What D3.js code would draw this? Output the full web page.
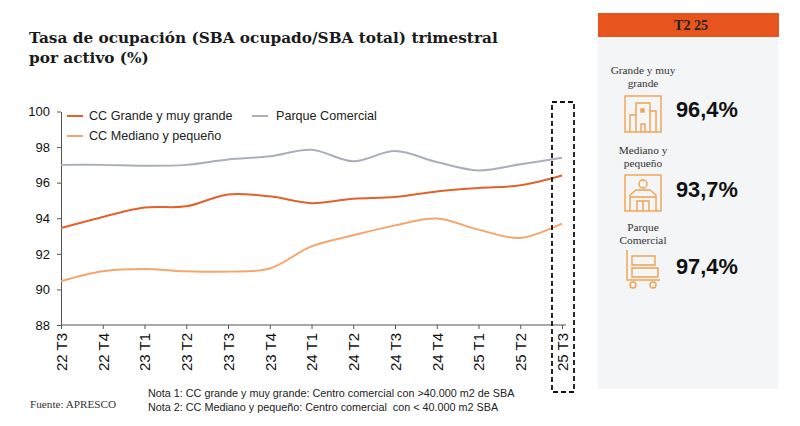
<!DOCTYPE html>
<html lang='es'>
<head>
  <meta charset='utf-8'>
  <title>Tasa de ocupación</title>
  <script src='https://d3js.org/d3.v7.min.js' charset='utf-8'></script>
  <style>
  body { margin: 0; background: #fff; }
  .axis text { font-family: 'Liberation Sans', Arial, sans-serif; fill: #111; }
  .axis path, .axis line { stroke: #555; }
  </style>
</head>
<body>
<script>
// datos
var quarters = ['22 T3','22 T4','23 T1','23 T2','23 T3','23 T4','24 T1','24 T2','24 T3','24 T4','25 T1','25 T2','25 T3'];
var grande  = [93.45, 94.07, 94.6, 94.67, 95.34, 95.23, 94.85, 95.1, 95.19, 95.51, 95.7, 95.85, 96.4];
var mediano = [90.46, 91.02, 91.15, 91.02, 91.0, 91.18, 92.42, 93.04, 93.6, 93.98, 93.36, 92.89, 93.7];
var parque  = [97.0, 97.0, 96.95, 97.0, 97.3, 97.48, 97.85, 97.2, 97.78, 97.16, 96.69, 97.03, 97.4];
var yTicks  = [88, 90, 92, 94, 96, 98, 100];

var seriesNames = ['CC Grande y muy grande', 'CC Mediano y pequeño', 'Parque Comercial'];
var seriesColors = ['#E2622C', '#F6A66C', '#A9AEBB'];

// panel derecho
var panelTitle = 'T2 25';
var panelLabels = [['Grande y muy', 'grande'], ['Mediano y', 'pequeño'], ['Parque', 'Comercial']];
var panelValues = ['96,4%', '93,7%', '97,4%'];

var width = 800, height = 426;

var svg = d3.select('body').append('svg')
  .attr('width', width)
  .attr('height', height);

// titulo
svg.append('text')
  .attr('x', 29).attr('y', 43)
  .style('font-family', "'DejaVu Serif', Georgia, serif")
  .style('font-weight', 'bold')
  .style('font-size', '15.3px')
  .attr('fill', '#1a1a1a')
  .selectAll('tspan')
  .data(['Tasa de ocupación (SBA ocupado/SBA total) trimestral', 'por activo (%)'])
  .enter().append('tspan')
  .attr('x', 29)
  .attr('dy', function(d, i) { return i ? 20 : 0; })
  .text(function(d) { return d; });

var x = d3.scalePoint().domain(quarters).range([61, 562]);
var y = d3.scaleLinear().domain([88, 100]).range([325, 111.5]);

var gx = svg.append('g')
  .attr('class', 'axis')
  .attr('transform', 'translate(0,325)')
  .call(d3.axisBottom(x).tickSizeOuter(0).tickSize(4));
gx.select('.domain').attr('d', 'M61,0H566');
gx.selectAll('text')
  .style('font-size', '15px')
  .attr('transform', 'rotate(-90)')
  .attr('text-anchor', 'end')
  .attr('x', -8)
  .attr('y', 0)
  .attr('dy', '0.35em');

var gy = svg.append('g')
  .attr('class', 'axis')
  .attr('transform', 'translate(61,0)')
  .call(d3.axisLeft(y).tickValues(yTicks).tickSize(4).tickSizeOuter(0));
gy.selectAll('text').style('font-size', '13px').attr('x', -11);

var line = d3.line()
  .x(function(d, i) { return x(quarters[i]); })
  .y(function(d) { return y(d); })
  .curve(d3.curveCatmullRom.alpha(0.5));

var allSeries = [grande, mediano, parque];
svg.append('g').selectAll('path')
  .data([parque, mediano, grande])
  .enter().append('path')
  .attr('fill', 'none')
  .attr('stroke-width', 2)
  .attr('stroke', function(d) { return seriesColors[allSeries.indexOf(d)]; })
  .attr('d', line);

// leyenda
var legendPos = [[67, 116], [67, 136], [252, 116]];
var legend = svg.append('g').selectAll('g')
  .data(seriesNames)
  .enter().append('g')
  .attr('transform', function(d, i) { return 'translate(' + legendPos[i][0] + ',' + legendPos[i][1] + ')'; });
legend.append('line')
  .attr('x1', 0).attr('x2', 16)
  .attr('stroke-width', 2)
  .attr('stroke', function(d, i) { return seriesColors[i]; });
legend.append('text')
  .attr('x', function(d, i) { return i === 2 ? 24 : 22; })
  .attr('dy', '0.35em')
  .style('font-family', "'Liberation Sans', Arial, sans-serif")
  .style('font-size', '12.6px')
  .attr('fill', '#222')
  .text(function(d) { return d; });

// recuadro discontinuo del ultimo trimestre
svg.append('rect')
  .attr('x', x('25 T3') - 10).attr('y', 102)
  .attr('width', 22).attr('height', 290)
  .attr('fill', 'none')
  .attr('stroke', '#111')
  .attr('stroke-width', 1.8)
  .attr('stroke-dasharray', '5,3');

// fuente y notas
svg.append('text')
  .attr('x', 30).attr('y', 408)
  .style('font-family', "'Liberation Serif', 'Times New Roman', serif")
  .style('font-size', '11.2px')
  .attr('fill', '#333')
  .text('Fuente: APRESCO');

svg.append('g').selectAll('text')
  .data(['Nota 1: CC grande y muy grande: Centro comercial con >40.000 m2 de SBA',
         'Nota 2: CC Mediano y pequeño: Centro comercial  con < 40.000 m2 SBA'])
  .enter().append('text')
  .attr('x', 148)
  .attr('y', function(d, i) { return 397 + i * 14; })
  .style('font-family', "'Liberation Sans', Arial, sans-serif")
  .style('font-size', '10.8px')
  .style('white-space', 'pre')
  .attr('fill', '#222')
  .text(function(d) { return d; });

// panel derecho
var panel = svg.append('g');
panel.append('rect')
  .attr('x', 598).attr('y', 13).attr('width', 180).attr('height', 376)
  .attr('fill', '#F4F5F6');
panel.append('rect')
  .attr('x', 598).attr('y', 13).attr('width', 181).attr('height', 24)
  .attr('fill', '#E8541E');
panel.append('text')
  .attr('x', 691).attr('y', 30)
  .attr('text-anchor', 'middle')
  .style('font-family', "'Liberation Serif', 'Times New Roman', serif")
  .style('font-weight', 'bold')
  .style('font-size', '14px')
  .attr('fill', '#222')
  .text(panelTitle);

var itemTop = [71, 151, 228];
var items = panel.selectAll('g.item')
  .data(panelValues)
  .enter().append('g')
  .attr('class', 'item')
  .attr('transform', function(d, i) { return 'translate(0,' + itemTop[i] + ')'; });

items.append('text')
  .attr('text-anchor', 'middle')
  .style('font-family', "'Liberation Serif', 'Times New Roman', serif")
  .style('font-size', '11.3px')
  .attr('fill', '#333')
  .selectAll('tspan')
  .data(function(d, i) { return panelLabels[i]; })
  .enter().append('tspan')
  .attr('x', 643)
  .attr('y', function(d, j) { return 3 + j * 13; })
  .text(function(d) { return d; });

items.append('text')
  .attr('x', 676)
  .attr('y', 46)
  .style('font-family', "'Liberation Sans', Arial, sans-serif")
  .style('font-weight', 'bold')
  .style('font-size', '21.8px')
  .attr('fill', '#111')
  .text(function(d) { return d; });

// iconos
var ic = '#F0A250';
items.each(function(d, i) {
  var g = d3.select(this).append('g')
    .attr('fill', 'none').attr('stroke', ic).attr('stroke-width', 1.4);
  if (i === 0) {
    g.append('rect').attr('x', 625).attr('y', 25).attr('width', 36).attr('height', 36);
    g.append('path').attr('d', 'M630,61V44H636V61M636,61V32H650V61M650,61V40H656V61M641,61V53H645V61');
    g.append('rect').attr('x', 641).attr('y', 38).attr('width', 3).attr('height', 3).attr('fill', ic);
  } else if (i === 1) {
    g.append('rect').attr('x', 625).attr('y', 24).attr('width', 36).attr('height', 36);
    g.append('circle').attr('cx', 643).attr('cy', 33).attr('r', 4);
    g.append('path').attr('d', 'M630,60V44L636,39H650L656,44V60M630,46H656M637,60V50H649V60M643,50V60');
  } else {
    g.append('path').attr('d', 'M627,22V52H660M632,28H655V37H632ZM632,40H658V49H632Z');
    g.append('circle').attr('cx', 633).attr('cy', 57).attr('r', 3);
    g.append('circle').attr('cx', 653).attr('cy', 57).attr('r', 3);
  }
});
</script>
</body>
</html>
